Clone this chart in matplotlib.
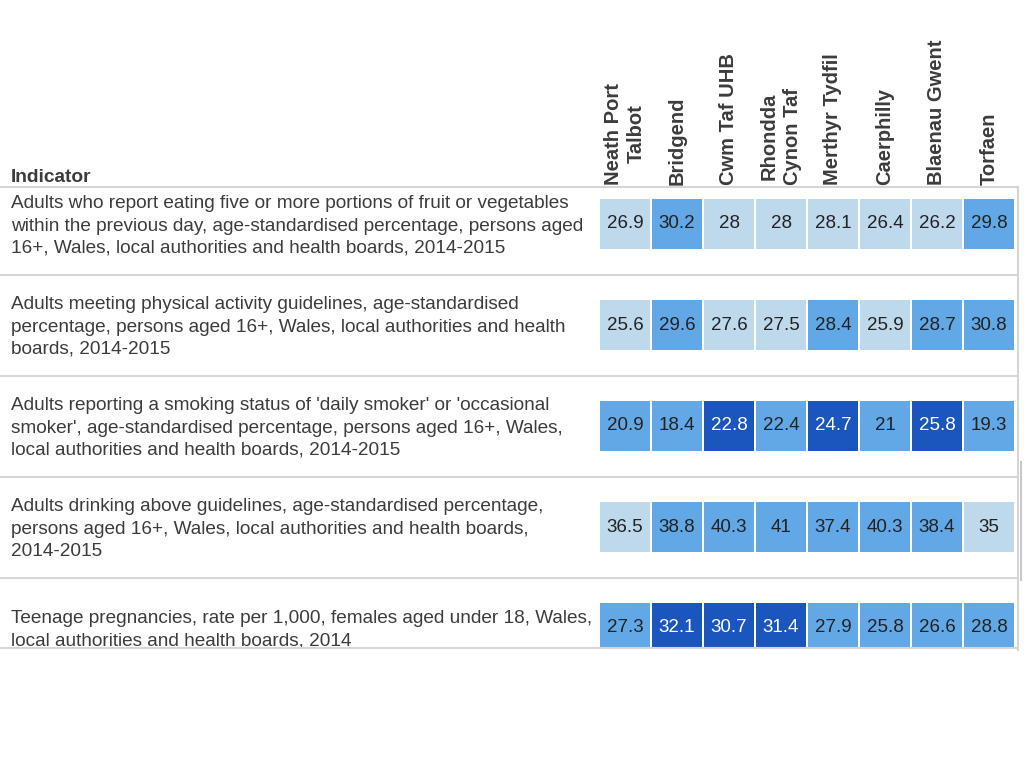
import matplotlib.pyplot as plt
import matplotlib.transforms as mtransforms
from matplotlib.patches import Rectangle
from matplotlib.lines import Line2D

plt.rcParams['font.family'] = ['Liberation Sans', 'DejaVu Sans']

areas = ["Neath Port\nTalbot", "Bridgend", "Cwm Taf UHB", "Rhondda\nCynon Taf",
         "Merthyr Tydfil", "Caerphilly", "Blaenau Gwent", "Torfaen"]

indicators = [
    "Adults who report eating five or more portions of fruit or vegetables\n"
    "within the previous day, age-standardised percentage, persons aged\n"
    "16+, Wales, local authorities and health boards, 2014-2015",
    "Adults meeting physical activity guidelines, age-standardised\n"
    "percentage, persons aged 16+, Wales, local authorities and health\n"
    "boards, 2014-2015",
    "Adults reporting a smoking status of 'daily smoker' or 'occasional\n"
    "smoker', age-standardised percentage, persons aged 16+, Wales,\n"
    "local authorities and health boards, 2014-2015",
    "Adults drinking above guidelines, age-standardised percentage,\n"
    "persons aged 16+, Wales, local authorities and health boards,\n"
    "2014-2015",
    "Teenage pregnancies, rate per 1,000, females aged under 18, Wales,\n"
    "local authorities and health boards, 2014",
]

values = [
    ["26.9", "30.2", "28", "28", "28.1", "26.4", "26.2", "29.8"],
    ["25.6", "29.6", "27.6", "27.5", "28.4", "25.9", "28.7", "30.8"],
    ["20.9", "18.4", "22.8", "22.4", "24.7", "21", "25.8", "19.3"],
    ["36.5", "38.8", "40.3", "41", "37.4", "40.3", "38.4", "35"],
    ["27.3", "32.1", "30.7", "31.4", "27.9", "25.8", "26.6", "28.8"],
]

# colour band of each cell: 0 light, 1 medium, 2 dark
bands = [
    [0, 1, 0, 0, 0, 0, 0, 1],
    [0, 1, 0, 0, 1, 0, 1, 1],
    [1, 1, 2, 1, 2, 1, 2, 1],
    [0, 1, 1, 1, 1, 1, 1, 0],
    [1, 2, 2, 2, 1, 1, 1, 1],
]

band_colors = ["#bed8ec", "#62a8e6", "#1b56be"]
text_colors = ["#222222", "#222222", "#ffffff"]
grey_text = "#3c3c3c"
line_color = "#d6d6d6"

W, H = 1024, 768
fig = plt.figure(figsize=(W / 100, H / 100), dpi=100)
ax = fig.add_axes([599 / W, 1 - 648 / H, 416 / W, (648 - 187) / H])
ax.set_xlim(-0.5, len(areas) - 0.5)
ax.set_ylim((648 - 224) / 101, (187 - 224) / 101)
ax.axis('off')

for i, row in enumerate(values):
    for j, v in enumerate(row):
        b = bands[i][j]
        ax.add_patch(Rectangle((j - 0.48, i - 0.25), 0.96, 0.5,
                               facecolor=band_colors[b], edgecolor='none'))
        ax.text(j, i, v, ha='center', va='center', fontsize=13.5,
                color=text_colors[b])

# indicator labels on the left
left = mtransforms.blended_transform_factory(fig.transFigure, ax.transData)
for i, label in enumerate(indicators):
    ax.text(11 / W, i + 0.02, label, transform=left, ha='left', va='center',
            fontsize=13.7, color=grey_text, linespacing=1.4, clip_on=False)

# row separators and header line
ytop = ax.get_ylim()[1]
for y in [ytop] + [i + 0.5 for i in range(len(indicators) - 1)] + [ax.get_ylim()[0]]:
    fig.add_artist(Line2D([0, 1016 / W], [y, y], transform=left,
                          color=line_color, lw=1.5))
fig.add_artist(Line2D([1018 / W, 1018 / W], [1 - 187 / H, 1 - 650 / H],
                      transform=fig.transFigure, color=line_color, lw=1.5))
fig.add_artist(Line2D([1021 / W, 1021 / W], [1 - 462 / H, 1 - 580 / H],
                      transform=fig.transFigure, color="#c8c8c8", lw=1.5))

# column headers
for j, name in enumerate(areas):
    ax.text(j, ytop - 0.02, name, rotation=90, ha='center', va='bottom',
            fontsize=14.5, fontweight='bold', color=grey_text,
            linespacing=1.3, clip_on=False)

fig.text(11 / W, 1 - 177 / H, "Indicator", ha='left', va='center',
         fontsize=13.8, fontweight='bold', color=grey_text)

fig.savefig("out.png", dpi=100)
